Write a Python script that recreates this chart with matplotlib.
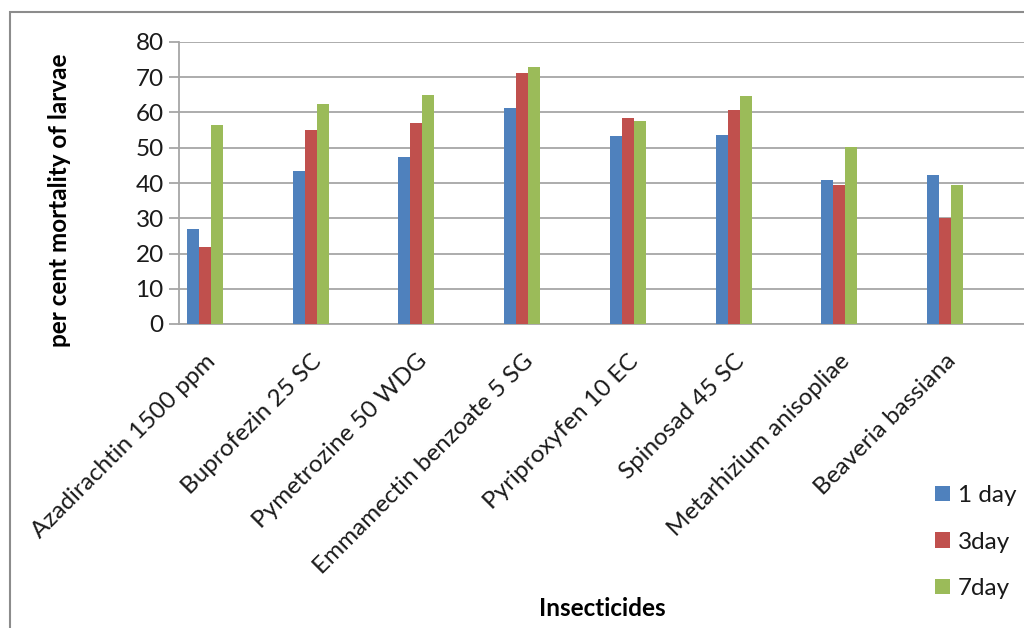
#!/usr/bin/env python3

import numpy as np
import matplotlib
matplotlib.use('Agg')
import matplotlib.pyplot as plt
from matplotlib.patches import Rectangle


insecticides = ['Azadirachtin 1500 ppm', 'Buprofezin 25 SC', 'Pymetrozine 50 WDG',
                'Emmamectin benzoate 5 SG', 'Pyriproxyfen 10 EC', 'Spinosad 45 SC',
                'Metarhizium anisopliae', 'Beaveria bassiana']
day1 = [27.0, 43.4, 47.4, 61.3, 53.2, 53.6, 40.8, 42.3]
day3 = [21.9, 55.0, 56.9, 71.1, 58.3, 60.6, 39.5, 30.1]
day7 = [56.4, 62.3, 64.9, 72.9, 57.6, 64.6, 50.1, 39.4]
series_names = ['1 day', '3day', '7day']
yticks = [0, 10, 20, 30, 40, 50, 60, 70, 80]

colors = ['#4F81BD', '#C0504D', '#9BBB59']

plt.rcParams['font.family'] = ['Lato', 'DejaVu Sans']

W, H = 1024, 628
fig = plt.figure(figsize=(W / 100, H / 100), dpi=100)

# plot area in pixels: axis at x=179, value 0 at y=324, value 80 at y=42
left_px, right_px, bottom_px, top_px = 179, 1024, 324, 42
ax = fig.add_axes([left_px / W, 1 - bottom_px / H,
                   (right_px - left_px) / W, (bottom_px - top_px) / H])

cat_w = 105.7  # px per category
first_center = 205
x = np.arange(len(insecticides))
bw = 12 / cat_w
for k, (vals, c, name) in enumerate(zip([day1, day3, day7], colors, series_names)):
    ax.bar(x + (k - 1) * bw, vals, width=bw, color=c, label=name, zorder=3)

ax.set_xlim((left_px - first_center) / cat_w, (right_px - first_center) / cat_w)
ax.set_ylim(0, 80)
ax.set_yticks(yticks)
ax.yaxis.grid(True, color='#A6A6A6', linewidth=1.3, zorder=0)
ax.set_axisbelow(True)

for s in ['top', 'right']:
    ax.spines[s].set_visible(False)
for s in ['left', 'bottom']:
    ax.spines[s].set_color('#A6A6A6')
    ax.spines[s].set_linewidth(1.3)

ax.tick_params(axis='y', length=7, width=1.3, color='#A6A6A6', pad=4,
               labelsize=17.5, labelcolor='#1a1a1a')
ax.set_xticks(x)
ax.set_xticklabels(insecticides, rotation=45, ha='right', va='top',
                   rotation_mode='anchor', fontsize=17.5, color='#1a1a1a')
ax.tick_params(axis='x', length=0, pad=19)

fig.text(60 / W, 1 - 200 / H, 'per cent mortality of larvae', rotation=90,
         ha='center', va='center', fontsize=17.5, fontweight='bold')
fig.text(602 / W, 1 - 608 / H, 'Insecticides', ha='center', va='center',
         fontsize=17.5, fontweight='bold')

fig.legend(loc='upper left', bbox_to_anchor=(923 / W, 1 - 473 / H),
           frameon=False, fontsize=17.5, handlelength=0.6, handleheight=0.6,
           handletextpad=0.35, labelspacing=1.05, borderpad=0,
           labelcolor='#1a1a1a')

# chart border (cropped at right and bottom)
fig.patches.append(Rectangle((10 / W, -0.1), 1.2, 1.1 - 12 / H,
                             transform=fig.transFigure, fill=False,
                             edgecolor='#8C8C8C', linewidth=1.5))

fig.savefig('out.png', dpi=100)
